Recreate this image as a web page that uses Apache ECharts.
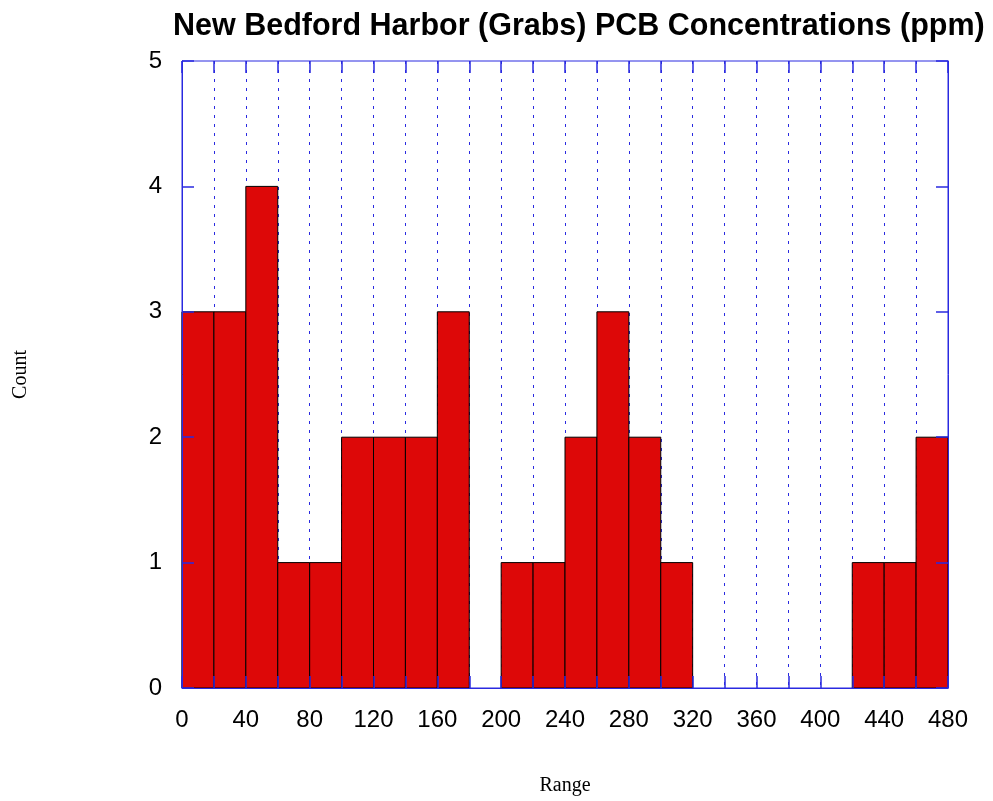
<!DOCTYPE html>
<html>
<head>
<meta charset="utf-8">
<script src="https://cdn.jsdelivr.net/npm/echarts@6/dist/echarts.min.js"></script>
<style>
  html, body { margin: 0; padding: 0; background: #fff; }
  #chart { width: 993px; height: 801px; }
</style>
</head>
<body>
<div id="chart"></div>
<script>
// bin edges (width 20) and counts
var binStart = [0, 20, 40, 60, 80, 100, 120, 140, 160, 180, 200, 220, 240, 260, 280, 300, 320, 340, 360, 380, 400, 420, 440, 460];
var binWidth = 20;
var counts = [3, 3, 4, 1, 1, 2, 2, 2, 3, 0, 1, 1, 2, 3, 2, 1, 0, 0, 0, 0, 0, 1, 1, 2];

var blue = '#2a2ae0';

var chart = echarts.init(document.getElementById('chart'));

var data = [];
for (var i = 0; i < binStart.length; i++) {
    data.push([binStart[i], binStart[i] + binWidth, counts[i]]);
}

// short ticks pointing into the plot, drawn over the bars
var tickIn = { show: true, inside: true, length: 12, lineStyle: { color: blue, width: 1.5 } };

chart.setOption({
    animation: false,
    title: {
        text: 'New Bedford Harbor (Grabs) PCB Concentrations (ppm)',
        left: 168,
        top: 6,
        textStyle: { fontFamily: 'Liberation Sans, Arial', fontWeight: 'bold', fontSize: 30.5, color: '#000' }
    },
    grid: {
        left: 182, right: 45, top: 61, bottom: 112,
        show: true, borderColor: blue, borderWidth: 1, backgroundColor: 'transparent'
    },
    xAxis: [
        {
            type: 'value', min: 0, max: 480, interval: 40, z: 10,
            name: 'Range', nameLocation: 'middle', nameGap: 88,
            nameTextStyle: { fontFamily: 'Liberation Serif, Times New Roman', fontSize: 20, color: '#000' },
            axisLine: { onZero: false, lineStyle: { color: blue } },
            axisTick: { show: false },
            axisLabel: { margin: 20, fontFamily: 'Liberation Sans, Arial', fontSize: 24, color: '#000' },
            splitLine: { show: false }
        },
        {
            type: 'value', min: 0, max: 480, interval: 20, position: 'bottom', z: 10,
            axisLine: { show: false, onZero: false },
            axisTick: tickIn,
            axisLabel: { show: false },
            splitLine: { show: false }
        },
        {
            type: 'value', min: 0, max: 480, interval: 20, position: 'top', z: 10,
            axisLine: { show: false, onZero: false },
            axisTick: tickIn,
            axisLabel: { show: false },
            splitLine: { show: false }
        },
        {
            // dotted grid lines at every bin edge, behind the bars
            type: 'value', min: 0, max: 480, interval: 20, position: 'bottom', z: 0,
            axisLine: { show: false, onZero: false },
            axisTick: { show: false },
            axisLabel: { show: false },
            splitLine: { show: true, lineStyle: { color: blue, type: [3, 6], width: 1 } }
        }
    ],
    yAxis: [
        {
            type: 'value', min: 0, max: 5, interval: 1, position: 'left', z: 10,
            name: 'Count', nameLocation: 'middle', nameGap: 151, nameRotate: 90,
            nameTextStyle: { fontFamily: 'Liberation Serif, Times New Roman', fontSize: 20, color: '#000' },
            axisLine: { show: true, onZero: false, lineStyle: { color: blue } },
            axisTick: tickIn,
            axisLabel: { margin: 20, fontFamily: 'Liberation Sans, Arial', fontSize: 24, color: '#000' },
            splitLine: { show: false }
        },
        {
            type: 'value', min: 0, max: 5, interval: 1, position: 'right', z: 10,
            axisLine: { show: true, onZero: false, lineStyle: { color: blue } },
            axisTick: tickIn,
            axisLabel: { show: false },
            splitLine: { show: false }
        }
    ],
    series: [
        {
            type: 'custom',
            xAxisIndex: 0,
            yAxisIndex: 0,
            z: 2,
            data: data,
            encode: { x: [0, 1], y: 2 },
            renderItem: function (params, api) {
                var p0 = api.coord([api.value(0), api.value(2)]);
                var p1 = api.coord([api.value(1), 0]);
                if (api.value(2) === 0) return;
                return {
                    type: 'rect',
                    shape: { x: p0[0], y: p0[1], width: p1[0] - p0[0], height: p1[1] - p0[1] },
                    style: { fill: '#dd0808', stroke: '#000', lineWidth: 1 }
                };
            }
        }
    ]
});
</script>
</body>
</html>
